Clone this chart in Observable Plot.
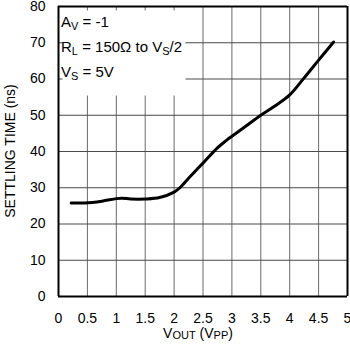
<!DOCTYPE html>
<html>
<head>
<meta charset="utf-8">
<script src="https://cdn.jsdelivr.net/npm/d3@7"></script>
<script src="https://cdn.jsdelivr.net/npm/@observablehq/plot@0.6"></script>
<style>
  html, body { margin: 0; padding: 0; background: white; }
  svg { display: block; }
</style>
</head>
<body>
<div id="chart"></div>
<script>
// Data
const vout = [0.22, 0.45, 0.75, 1.0, 1.1, 1.25, 1.5, 1.75, 2.0, 2.1, 2.25, 2.5, 2.75, 2.9, 3.0, 3.25, 3.5, 3.75, 4.0, 4.25, 4.5, 4.76];
const settlingTime = [25.8, 25.8, 26.3, 27.0, 27.1, 26.9, 26.9, 27.3, 28.8, 30.0, 32.6, 36.8, 41.0, 43.0, 44.2, 47.1, 50.0, 52.6, 55.6, 60.3, 65.2, 70.2];
const xTicks = [0, 0.5, 1, 1.5, 2, 2.5, 3, 3.5, 4, 4.5, 5];
const yTicks = [0, 10, 20, 30, 40, 50, 60, 70, 80];
const xDomain = [0, 5];
const yDomain = [0, 80];
const xLabelParts = [["V", false], ["OUT", true], [" (V", false], ["PP", true], [")", false]];
const yLabel = "SETTLING TIME (ns)";
const legendLines = [
  [["A", false], ["V", true], [" = -1", false]],
  [["R", false], ["L", true], [" = 150\u03A9 to V", false], ["S", true], ["/2", false]],
  [["V", false], ["S", true], [" = 5V", false]]
];

const data = vout.map((v, i) => ({x: v, y: settlingTime[i]}));
const font = "Arial, 'Liberation Sans', Helvetica, sans-serif";

const plot = Plot.plot({
  width: 350,
  height: 352,
  marginLeft: 58,
  marginRight: 3,
  marginTop: 6,
  marginBottom: 56,
  style: {fontFamily: font, fontSize: "14px", color: "black", background: "white"},
  x: {domain: xDomain, label: null},
  y: {domain: yDomain, label: null},
  marks: [
    Plot.gridX(xTicks, {stroke: "#6a6a6a", strokeOpacity: 1}),
    Plot.gridY(yTicks, {stroke: "#4a4a4a", strokeOpacity: 1}),
    Plot.frame({fill: "white", stroke: null, insetLeft: 4, insetTop: 4, insetRight: 162, insetBottom: 201}),
    Plot.axisX(xTicks, {tickSize: 0, tickPadding: 17, fontSize: 14, tickFormat: d => String(d), label: null}),
    Plot.axisY(yTicks, {tickSize: 0, tickPadding: 13, fontSize: 14, label: null}),
    Plot.line(data, {x: "x", y: "y", stroke: "black", strokeWidth: 3, curve: "catmull-rom"}),
    Plot.ruleX(xDomain, {stroke: "black", strokeWidth: 2, strokeOpacity: 1}),
    Plot.ruleY(yDomain, {stroke: "black", strokeWidth: 2, strokeOpacity: 1})
  ]
});

document.getElementById("chart").appendChild(plot);

const svg = d3.select(plot);

function addRich(parent, parts, size, subSize, shift) {
  let lowered = false;
  parts.forEach(([txt, sub]) => {
    const t = parent.append("tspan").text(txt);
    if (sub) {
      t.attr("font-size", subSize);
      if (!lowered) { t.attr("dy", shift); lowered = true; }
    } else {
      t.attr("font-size", size);
      if (lowered) { t.attr("dy", -shift); lowered = false; }
    }
  });
}

// Legend text
const legendG = svg.append("g").attr("font-family", font).attr("fill", "black").attr("text-anchor", "start");
legendLines.forEach((parts, i) => {
  const t = legendG.append("text").attr("x", 61).attr("y", 27 + i * 25)
    .attr("text-anchor", "start").style("white-space", "pre");
  addRich(t, parts, 15, 11, 3);
});

// X label
const xl = svg.append("text")
  .attr("x", 198).attr("y", 338)
  .attr("text-anchor", "middle")
  .attr("font-family", font).attr("fill", "black")
  .style("white-space", "pre");
addRich(xl, xLabelParts, 14, 11, 1);

// Y label
svg.append("text")
  .attr("transform", "translate(15,151) rotate(-90)")
  .attr("text-anchor", "middle")
  .attr("font-family", font).attr("font-size", 14).attr("fill", "black")
  .text(yLabel);
</script>
</body>
</html>
